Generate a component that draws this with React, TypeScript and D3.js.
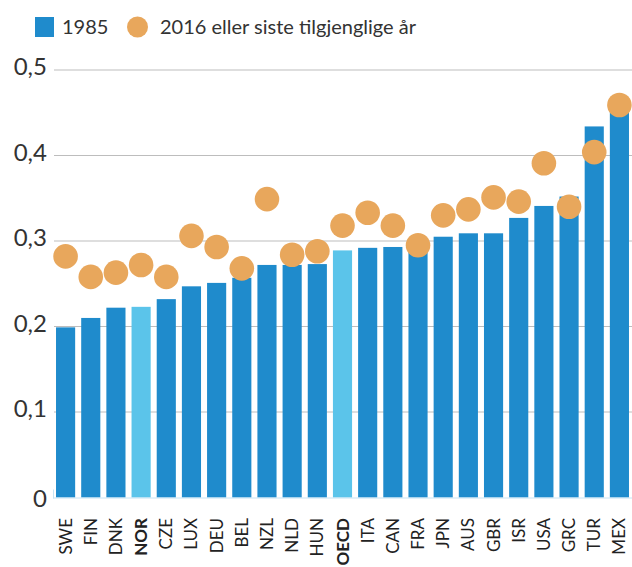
import { useRef, useEffect } from 'react';
import * as d3 from 'd3';

const WIDTH = 632;
const HEIGHT = 567;
const MARGIN = { top: 70, right: 0, bottom: 69.5, left: 53 };

const countries = ['SWE', 'FIN', 'DNK', 'NOR', 'CZE', 'LUX', 'DEU', 'BEL', 'NZL', 'NLD', 'HUN', 'OECD',
  'ITA', 'CAN', 'FRA', 'JPN', 'AUS', 'GBR', 'ISR', 'USA', 'GRC', 'TUR', 'MEX'];
const values1985 = [0.199, 0.210, 0.222, 0.223, 0.232, 0.247, 0.251, 0.257, 0.272, 0.272, 0.273, 0.289,
  0.292, 0.293, 0.293, 0.305, 0.309, 0.309, 0.327, 0.341, 0.352, 0.434, 0.452];
const values2016 = [0.282, 0.258, 0.263, 0.272, 0.258, 0.306, 0.293, 0.268, 0.349, 0.284, 0.288, 0.318,
  0.333, 0.318, 0.295, 0.330, 0.337, 0.351, 0.346, 0.391, 0.340, 0.404, 0.459];
const highlighted = ['NOR', 'OECD'];
const yTicks = [0, 0.1, 0.2, 0.3, 0.4, 0.5];
const legendLabels = ['1985', '2016 eller siste tilgjenglige år'];

const BAR = '#1f8bcc';
const BAR_HI = '#5bc4ea';
const DOT = '#e8a75c';
const FONT = 'Lato, "Open Sans", sans-serif';

export default function App() {
  const svgRef = useRef<SVGSVGElement>(null);

  useEffect(() => {
    const svg = d3.select(svgRef.current);
    svg.selectAll('*').remove();

    const data = countries.map((c, i) => ({ c, v85: values1985[i], v16: values2016[i] }));
    const innerH = HEIGHT - MARGIN.top - MARGIN.bottom;

    const x = d3.scaleBand()
      .domain(countries)
      .range([MARGIN.left, WIDTH - MARGIN.right])
      .paddingInner(0.24)
      .paddingOuter(0.12);
    const y = d3.scaleLinear().domain([0, 0.5]).range([MARGIN.top + innerH, MARGIN.top]);

    // grid
    svg.append('g')
      .selectAll('line')
      .data(yTicks.filter(t => t > 0))
      .join('line')
      .attr('x1', 54).attr('x2', WIDTH)
      .attr('y1', d => y(d)).attr('y2', d => y(d))
      .attr('stroke', '#bdbdbd').attr('stroke-width', 1.2);

    // y labels
    svg.append('g')
      .selectAll('text')
      .data(yTicks)
      .join('text')
      .attr('x', 47)
      .attr('y', d => y(d) + (d === 0 ? 9 : 5))
      .attr('text-anchor', 'end')
      .attr('font-family', FONT)
      .attr('font-size', 24)
      .attr('fill', '#333')
      .text(d => (d === 0 ? '0' : d3.format('.1f')(d).replace('.', ',')));

    // bars
    svg.append('g')
      .selectAll('rect')
      .data(data)
      .join('rect')
      .attr('x', d => x(d.c)!)
      .attr('width', x.bandwidth())
      .attr('y', d => y(d.v85))
      .attr('height', d => y(0) - y(d.v85))
      .attr('fill', d => (highlighted.includes(d.c) ? BAR_HI : BAR));

    // baseline
    svg.append('line')
      .attr('x1', 53).attr('x2', WIDTH)
      .attr('y1', y(0) + 0.5).attr('y2', y(0) + 0.5)
      .attr('stroke', '#c6e3f4').attr('stroke-width', 1);
    svg.append('line')
      .attr('x1', 53.5).attr('x2', 53.5)
      .attr('y1', y(0) - 8).attr('y2', y(0) + 1)
      .attr('stroke', '#c6e3f4').attr('stroke-width', 1);

    // dots
    svg.append('g')
      .selectAll('circle')
      .data(data)
      .join('circle')
      .attr('cx', d => x(d.c)! + x.bandwidth() / 2)
      .attr('cy', d => y(d.v16))
      .attr('r', 12.3)
      .attr('fill', DOT);

    // x labels
    svg.append('g')
      .selectAll('text')
      .data(data)
      .join('text')
      .attr('transform', d => `translate(${x(d.c)! + x.bandwidth() / 2 + 6},518) rotate(-90)`)
      .attr('text-anchor', 'end')
      .attr('font-family', FONT)
      .attr('font-size', 17)
      .attr('font-weight', d => (highlighted.includes(d.c) ? 700 : 400))
      .attr('fill', '#222')
      .text(d => d.c);

    // legend
    const lg = svg.append('g');
    lg.append('rect').attr('x', 35).attr('y', 17).attr('width', 19).attr('height', 20).attr('fill', BAR);
    lg.append('text')
      .attr('x', 62).attr('y', 34)
      .attr('font-family', FONT).attr('font-size', 20).attr('fill', '#333')
      .text(legendLabels[0]);
    lg.append('circle').attr('cx', 137.5).attr('cy', 27).attr('r', 10.5).attr('fill', DOT);
    lg.append('text')
      .attr('x', 160).attr('y', 34)
      .attr('font-family', FONT).attr('font-size', 20).attr('fill', '#333')
      .text(legendLabels[1]);
  }, []);

  return (
    <svg
      ref={svgRef}
      width={WIDTH}
      height={HEIGHT}
      style={{ position: 'absolute', left: 0, top: 0, background: '#fff' }}
    />
  );
}
